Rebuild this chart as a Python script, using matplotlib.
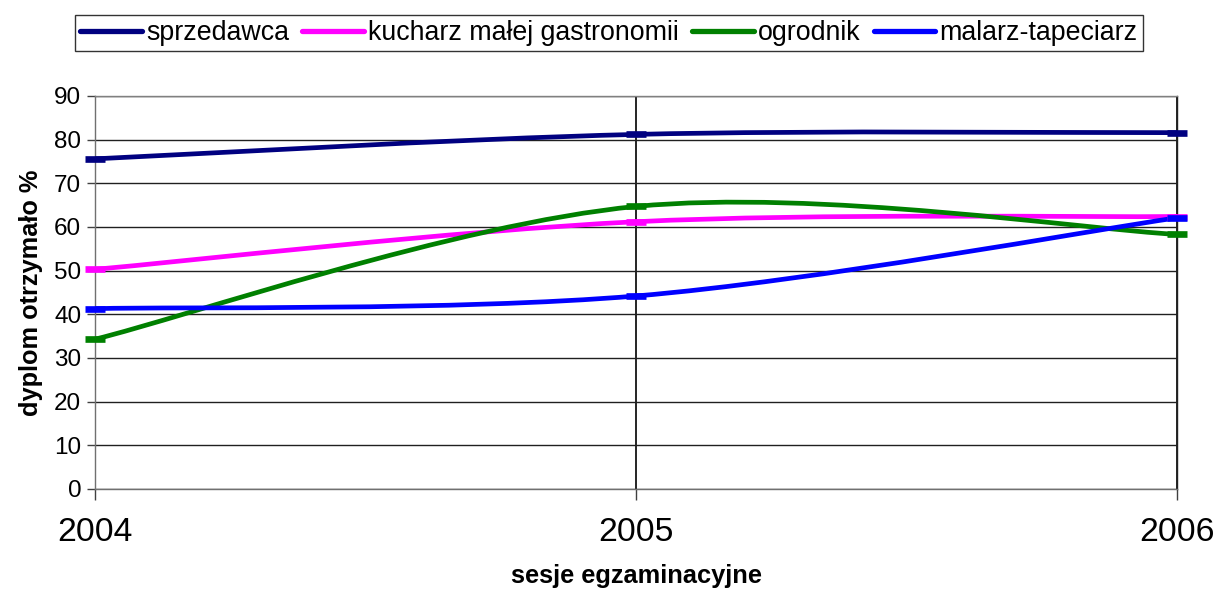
import matplotlib
matplotlib.use("Agg")
import matplotlib.pyplot as plt
import numpy as np
from matplotlib.path import Path
from matplotlib.patches import PathPatch
from matplotlib.lines import Line2D

plt.rcParams['font.family'] = ['Liberation Sans', 'DejaVu Sans']

# Data
years = [2004, 2005, 2006]
sprzedawca = [75.6, 81.2, 81.6]
kucharz = [50.3, 61.2, 62.4]
ogrodnik = [34.3, 64.7, 58.3]
malarz = [41.3, 44.2, 62.1]

series = [
    ('sprzedawca', sprzedawca, '#000080'),
    ('kucharz małej gastronomii', kucharz, '#FF00FF'),
    ('ogrodnik', ogrodnik, '#008000'),
    ('malarz-tapeciarz', malarz, '#0000FF'),
]


def smooth_path(xs, ys):
    # Excel-style smoothed line: cubic Bezier through the points
    pts = np.column_stack([xs, ys]).astype(float)
    n = len(pts)
    verts = [pts[0]]
    codes = [Path.MOVETO]
    for i in range(n - 1):
        p0 = pts[i - 1] if i > 0 else pts[i]
        p1 = pts[i]
        p2 = pts[i + 1]
        p3 = pts[i + 2] if i + 2 < n else pts[i + 1]
        c1 = p1 + (p2 - p0) / 6.0
        c2 = p2 - (p3 - p1) / 6.0
        verts += [c1, c2, p2]
        codes += [Path.CURVE4] * 3
    return Path(verts, codes)


fig = plt.figure(figsize=(12.14, 5.98), dpi=100)
ax = fig.add_axes([0.0783, 0.1823, 0.8912, 0.6572])

handles = []
for name, vals, color in series:
    patch = PathPatch(smooth_path(years, vals), facecolor='none', edgecolor=color,
                      lw=3.4, capstyle='butt', zorder=3, clip_on=False)
    ax.add_patch(patch)
    ax.plot(years, vals, linestyle='none', marker='_', markersize=15,
            markeredgewidth=4.8, color=color, zorder=4, clip_on=False)
    handles.append(Line2D([], [], color=color, lw=3.8, solid_capstyle='round'))

ax.set_xlim(2004, 2006)
ax.set_ylim(0, 90)
ax.set_xticks(years)
ax.set_xticklabels([str(y) for y in years], fontsize=24.3)
ax.set_yticks(range(0, 91, 10))
ax.tick_params(axis='y', labelsize=17.5, length=6, width=1, pad=4, color='#404040')
ax.tick_params(axis='x', length=8, width=1, pad=12, color='#404040')

ax.grid(axis='y', color='#202020', lw=1)
ax.grid(axis='x', color='black', lw=1.2)
ax.set_axisbelow(True)

ax.spines['left'].set_color('#707070')
ax.spines['bottom'].set_color('#707070')
ax.spines['top'].set_color('#808080')
ax.spines['right'].set_color('#202020')
for s in ax.spines.values():
    s.set_linewidth(1)

ax.set_xlabel('sesje egzaminacyjne', fontsize=18.3, fontweight='bold', labelpad=12)
ax.set_ylabel('dyplom otrzymało %', fontsize=18.3, fontweight='bold', labelpad=8)

leg = fig.legend(handles, [s[0] for s in series], loc='center',
                 bbox_to_anchor=(0.5016, 0.9448), ncol=4, fontsize=19.3,
                 handlelength=2.3, handletextpad=0.15, columnspacing=0.5,
                 frameon=True, fancybox=False, borderpad=0.2, borderaxespad=0)
leg.get_frame().set_edgecolor('black')
leg.get_frame().set_linewidth(1)

fig.savefig('out.png', dpi=100)
